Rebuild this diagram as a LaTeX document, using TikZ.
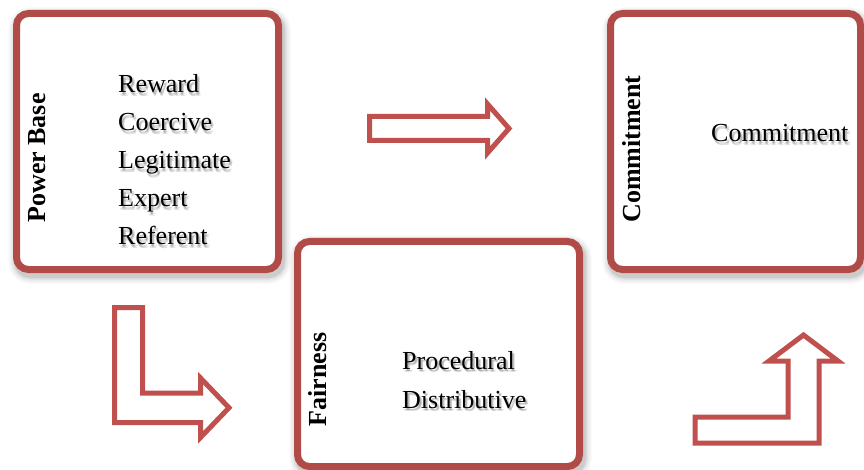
\documentclass[tikz,border=0pt]{standalone}
\usepackage{fontspec}
\setmainfont{Liberation Serif}
\usetikzlibrary{calc}
\definecolor{boxred}{HTML}{B04B48}
\definecolor{arrowred}{HTML}{C0504D}
\tikzset{
  panel/.style={draw=boxred, line width=7pt, rounded corners=12pt, fill=white, inner sep=0pt},
  heading/.style={rotate=90, font=\fontsize{26}{30}\selectfont\bfseries, inner sep=0pt},
  item/.style={anchor=base west, font=\fontsize{26}{30}\selectfont, inner sep=0pt},
  blockarrow/.style={draw=arrowred, line width=5pt, fill=white, line join=miter},
}
% soft shadow behind a panel: corners given as x1,y1,x2,y2
\newcommand\panelshadow[4]{%
  \foreach \w/\o in {20/.035, 16/.045, 12/.06, 9/.08}{%
    \draw[black, opacity=\o, line width=\w pt, rounded corners=12pt]
      (#1+2,#2+4) rectangle (#3+2,#4+4);}}
% text with a faint blurred drop shadow
\newcommand\itemtext[3]{%
  \foreach \dx/\dy in {1/2.5,2/3.5,2.5/2}{%
    \node[item, opacity=.12] at ($(#2)+(\dx,\dy)$) {#3};}
  \node[item] (#1) at (#2) {#3};}
\begin{document}
\begin{tikzpicture}[x=1pt,y=-1pt]
\useasboundingbox (0,0) rectangle (864,470);

% shadows of the three panels
\panelshadow{16.5}{13.5}{278.5}{269.5}
\panelshadow{610.5}{13.5}{860.5}{269.5}
\panelshadow{297.5}{241.5}{579.5}{466.5}

% panels
\node[panel, minimum width=262pt, minimum height=256pt] (power) at (147.5,141.5) {};
\node[panel, minimum width=250pt, minimum height=256pt] (commit) at (735.5,141.5) {};
\node[panel, minimum width=282pt, minimum height=225pt] (fair) at (438.5,354) {};

% vertical headings
\node[heading] (powerhead) at (37,158) {Power Base};
\node[heading] (commithead) at (632,149) {Commitment};
\node[heading] (fairhead) at (318,379.5) {Fairness};

% panel contents
\itemtext{reward}{118,93}{Reward}
\itemtext{coercive}{118,131}{Coercive}
\itemtext{legit}{118,169}{Legitimate}
\itemtext{expert}{118,207}{Expert}
\itemtext{referent}{118,245}{Referent}
\itemtext{commitment}{711,142}{Commitment}
\itemtext{procedural}{402,369}{Procedural}
\itemtext{distributive}{402,408}{Distributive}

% block arrows
\draw[blockarrow] (369.5,116.5) -- (487.5,116.5) -- (487.5,104) -- (509,128.5)
  -- (487.5,153) -- (487.5,140.5) -- (369.5,140.5) -- cycle;
\draw[blockarrow] (114.5,307.5) -- (142.5,307.5) -- (142.5,393) -- (200.5,393)
  -- (200.5,378) -- (229,407.75) -- (200.5,437.5) -- (200.5,422.5) -- (114.5,422.5) -- cycle;
\draw[blockarrow] (695,443) -- (819,443) -- (819,361) -- (838,361) -- (803.5,335)
  -- (769,361) -- (788,361) -- (788,417) -- (695,417) -- cycle;
\end{tikzpicture}
\end{document}
